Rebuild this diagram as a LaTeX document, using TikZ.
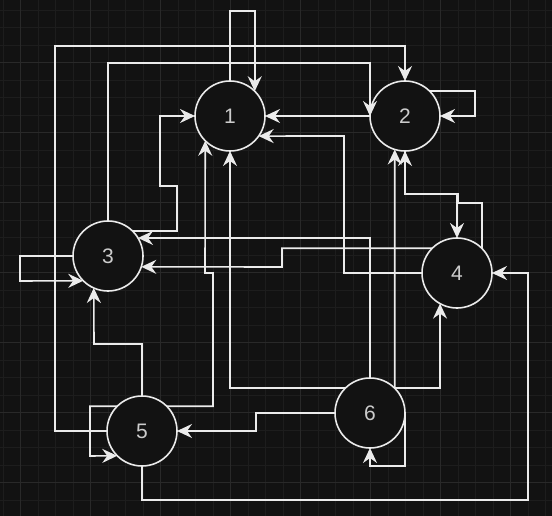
\documentclass[tikz,border=0pt]{standalone}
\usepackage{fontspec}
\setmainfont{Liberation Sans}
\usetikzlibrary{arrows.meta}
\definecolor{canvas}{HTML}{121212}
\definecolor{gridminor}{HTML}{1D1D1D}
\definecolor{gridmajor}{HTML}{292929}
\definecolor{wire}{HTML}{EBEBEB}
\definecolor{digit}{HTML}{CCCCCC}
\tikzset{>={Stealth[length=15pt,width=14pt,inset=5pt]}}
\tikzset{vertex/.style={circle, draw=wire, fill=canvas, line width=1.6pt,
    minimum size=70pt, inner sep=0pt, outer sep=0pt, text=digit,
    font=\fontsize{21}{24}\selectfont}}
\tikzset{link/.style={->, draw=wire, line width=1.6pt}}
\begin{document}
\begin{tikzpicture}[x=1pt, y=-1pt]
  \fill[canvas] (0,0) rectangle (552,516);
  \useasboundingbox (0,0) rectangle (552,516);
  % background grid
  \foreach \gx in {3.2,20.7,...,552}
    \draw[gridminor, line width=0.8pt] (\gx,0) -- (\gx,516);
  \foreach \gy in {10.2,27.7,...,516}
    \draw[gridminor, line width=0.8pt] (0,\gy) -- (552,\gy);
  \foreach \gx in {20.7,90.7,...,552}
    \draw[gridmajor, line width=0.8pt] (\gx,0) -- (\gx,516);
  \foreach \gy in {62.7,132.7,...,516}
    \draw[gridmajor, line width=0.8pt] (0,\gy) -- (552,\gy);

  \node[vertex] (n1) at (230,116) {1};
  \node[vertex] (n2) at (405,116) {2};
  \node[vertex] (n3) at (108,256) {3};
  \node[vertex] (n4) at (457,273) {4};
  \node[vertex] (n5) at (142,431) {5};
  \node[vertex] (n6) at (370,413) {6};

  % into 1
  \draw[link] (n1.north) -- ++(0,-70) -| (n1.45);
  \draw[link] (n3.45) -| (177,186) -- (160,186) |- (n1.west);
  \draw[link] (n2.west) -- (n1.east);
  \draw[link] (n4.west) -| (344,136) -- (n1.-35);
  \draw[link] (n5.45) -| (213,273) -- (205,273) -- (n1.-135);
  \draw[link] (n6.135) -| (n1.south);
  % into 2
  \draw[link] (n5.west) -| (55,46) -| (n2.north);
  \draw[link] (n3.north) |- (370,63) -- (n2.west);
  \draw[link] (n2.45) -| (475,116) -- (n2.east);
  \draw[link] (n6.45) -- (n2.-107);
  \draw[link] (n4.45) |- (458,203) -- (458,194) -| (n2.south);
  % into 3
  \draw[link] (n6.north) |- (n3.31);
  \draw[link] (n4.135) -| (282,267) -- (n3.-18);
  \draw[link] (n5.north) |- (94,344) -- (n3.-114);
  \draw[link] (n3.west) -| (20,281) -- (n3.225);
  % into 4
  \draw[link] (n2.south) -- ++(0,43) -| (n4.north);
  \draw[link] (n6.45) -| (n4.-119);
  \draw[link] (n5.south) |- (528,500) |- (n4.east);
  % into 5 and 6
  \draw[link] (n6.west) -| (256,431) -- (n5.east);
  \draw[link] (n5.135) -| (90,456) -- (n5.225);
  \draw[link] (n6.east) |- (370,466) -- (n6.south);
\end{tikzpicture}
\end{document}
